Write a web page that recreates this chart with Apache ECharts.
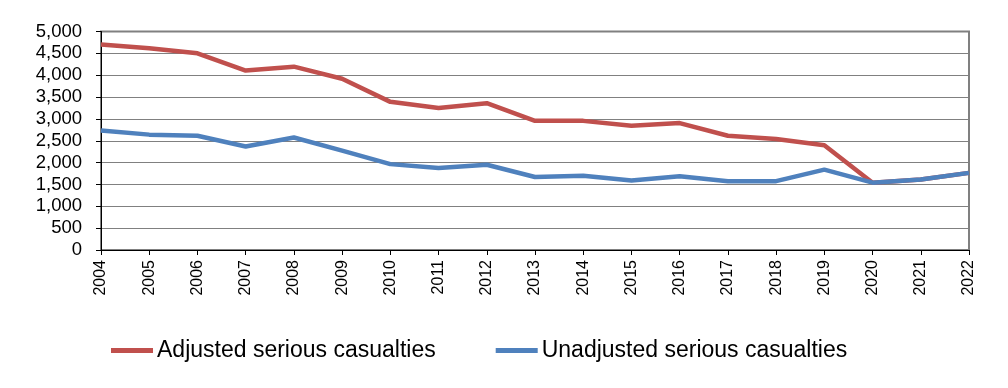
<!DOCTYPE html>
<html>
<head>
<meta charset="utf-8">
<script src="https://cdn.jsdelivr.net/npm/echarts@6/dist/echarts.min.js"></script>
<style>
html,body{margin:0;padding:0;background:#fff;}
#c{width:1008px;height:388px;}
</style>
</head>
<body>
<div id="c"></div>
<script>
const years = ['2004','2005','2006','2007','2008','2009','2010','2011','2012','2013','2014','2015','2016','2017','2018','2019','2020','2021','2022'];
const adjusted = [4705, 4615, 4500, 4105, 4195, 3920, 3390, 3250, 3360, 2955, 2955, 2845, 2905, 2615, 2540, 2395, 1540, 1615, 1765];
const unadjusted = [2735, 2640, 2615, 2370, 2575, 2275, 1965, 1875, 1950, 1670, 1700, 1590, 1690, 1575, 1575, 1840, 1540, 1615, 1765];
const yTicks = [0, 500, 1000, 1500, 2000, 2500, 3000, 3500, 4000, 4500, 5000];

const chart = echarts.init(document.getElementById('c'));
chart.setOption({
  animation: false,
  grid: {left: 101, right: 39, top: 31.5, bottom: 138, show: true, borderColor: '#808080', borderWidth: 2, backgroundColor: 'transparent'},
  legend: {
    left: 106, top: 334,
    itemWidth: 42, itemHeight: 5, itemGap: 60,
    icon: 'rect',
    textStyle: {fontFamily: 'Liberation Sans, Arial', fontSize: 23, color: '#000', padding: [0,0,0,-1]},
    data: ['Adjusted serious casualties', 'Unadjusted serious casualties']
  },
  xAxis: {
    type: 'category', data: years, boundaryGap: false,
    axisLine: {lineStyle: {color: '#000', width: 1}},
    axisTick: {show: true, length: 5, lineStyle: {color: '#000'}},
    axisLabel: {rotate: 90, fontFamily: 'Liberation Sans, Arial', fontSize: 16, color: '#000', margin: 10, interval: 0},
    splitLine: {show: false}
  },
  yAxis: {
    type: 'value', min: yTicks[0], max: yTicks[yTicks.length-1], interval: 500,
    axisLine: {show: true, lineStyle: {color: '#000', width: 1}},
    axisTick: {show: true, length: 5, lineStyle: {color: '#000'}},
    axisLabel: {fontFamily: 'Liberation Sans, Arial', fontSize: 18.5, color: '#000', margin: 19,
      formatter: v => v.toLocaleString('en-US')},
    splitLine: {lineStyle: {color: '#808080', width: 1}}
  },
  series: [
    {name: 'Adjusted serious casualties', type: 'line', data: adjusted, showSymbol: false, symbol: 'none',
     lineStyle: {color: '#C0504D', width: 4.5}, itemStyle: {color: '#C0504D'}, z: 2},
    {name: 'Unadjusted serious casualties', type: 'line', data: unadjusted, showSymbol: false, symbol: 'none',
     lineStyle: {color: '#4F81BD', width: 4.5}, itemStyle: {color: '#4F81BD'}, z: 3}
  ]
});
</script>
</body>
</html>
